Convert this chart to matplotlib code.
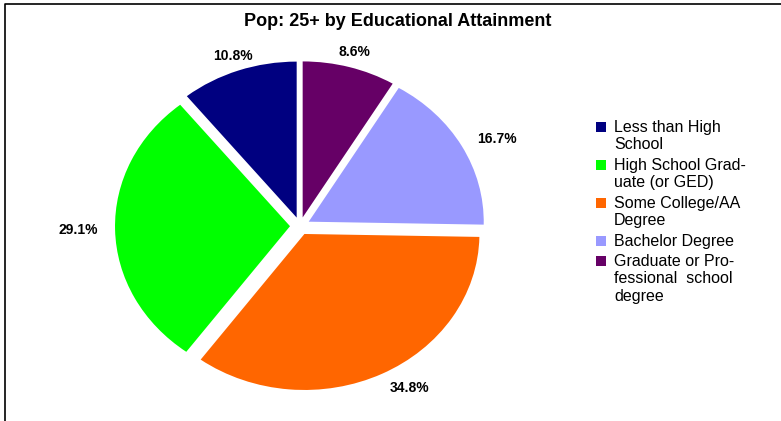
import numpy as np
import matplotlib.pyplot as plt
from matplotlib.patches import Rectangle
from matplotlib.lines import Line2D

plt.rcParams['font.family'] = ['Liberation Sans', 'DejaVu Sans']

categories = ['Less than High\nSchool', 'High School Grad-\nuate (or GED)',
              'Some College/AA\nDegree', 'Bachelor Degree',
              'Graduate or Pro-\nfessional  school\ndegree']
shares = [10.8, 29.1, 34.8, 16.7, 8.6]
colors = ['#000080', '#00ff00', '#ff6600', '#9999ff', '#660066']

W, H = 781, 421
fig = plt.figure(figsize=(W / 100, H / 100), dpi=100)

# pie centre / radius in pixels (picture is a bit wider than tall)
cx, cy, sx, sy = 300, 226, 175, 156
ax = fig.add_axes([0, 0, 1, 1])
wedges, texts, autotexts = ax.pie(
    shares, colors=colors, startangle=90, counterclock=True,
    explode=[0.057] * len(shares), autopct='%1.1f%%', pctdistance=1.1,
    wedgeprops=dict(linewidth=0),
    textprops=dict(fontsize=10, fontweight='bold', color='black'))
ax.set_aspect('auto')
ax.set_xlim(-cx / sx, (W - cx) / sx)
ax.set_ylim(-(H - cy) / sy, cy / sy)
ax.axis('off')

for w, t in zip(wedges, autotexts):
    mid = np.deg2rad((w.theta1 + w.theta2) / 2)
    c = np.cos(mid)
    if c > 0.4:
        t.set_ha('left')
    elif c < -0.4:
        t.set_ha('right')
    t.set_va('center')

def fx(x):
    return x / W

def fy(y):
    return 1 - y / H

fig.text(fx(398), fy(21), 'Pop: 25+ by Educational Attainment',
         ha='center', va='center', fontsize=13, fontweight='bold')

# legend, drawn by hand so the swatch sits on the first line
line_h = 18
y = 120
for lab, col in zip(categories, colors):
    fig.patches.append(Rectangle((fx(596), fy(y + 12)), 10 / W, 10 / H,
                                 transform=fig.transFigure, facecolor=col,
                                 edgecolor='none'))
    fig.text(fx(614), fy(y), lab, ha='left', va='top', fontsize=11.5,
             linespacing=1.2)
    y += line_h * (lab.count('\n') + 1) + 2

# chart frame (left and top edges visible)
fig.lines.append(Line2D([fx(5), fx(5), fx(W)], [fy(H), fy(4), fy(4)],
                        transform=fig.transFigure, color='black', lw=1.2))

fig.savefig('out.png', dpi=100)
